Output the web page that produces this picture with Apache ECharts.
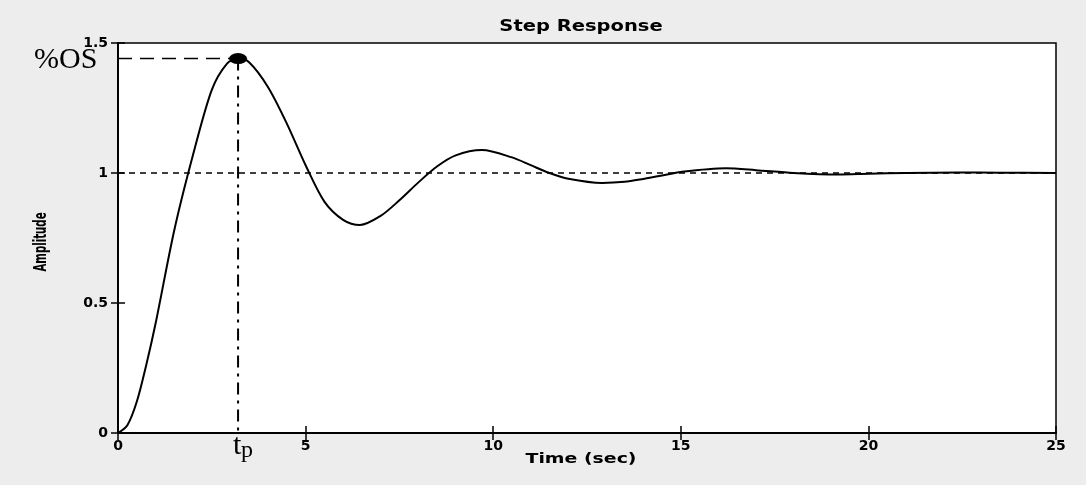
<!DOCTYPE html>
<html>
<head>
<meta charset="utf-8">
<script src="https://cdn.jsdelivr.net/npm/echarts@6/dist/echarts.min.js"></script>
<style>
  html, body { margin: 0; padding: 0; background: #ededed; }
  #step_chart { width: 1086px; height: 485px; }
</style>
</head>
<body>
<div id="step_chart"></div>
<script>
// step response (peaks and dips taken at their own times)
var times = [0, 0.25, 0.5, 0.75, 1, 1.5, 2, 2.5, 2.9, 3.2, 3.5, 4, 4.5, 5, 5.5, 6, 6.45, 7, 7.5, 8, 8.5, 9, 9.7,
    10.5, 11, 11.5, 12, 12.9, 13.5, 14, 14.5, 15, 16.2, 17, 18, 19.2, 20, 21, 22.4, 23.5, 25];
var amplitude = [0, 0.03, 0.12, 0.26, 0.42, 0.78, 1.07, 1.32, 1.42, 1.44, 1.425, 1.33, 1.19, 1.03, 0.89, 0.82, 0.80, 0.835, 0.895, 0.963, 1.025, 1.068, 1.088,
    1.06, 1.03, 1.0, 0.978, 0.962, 0.966, 0.977, 0.99, 1.004, 1.018, 1.011, 1.0, 0.994, 0.997, 1.0, 1.002, 1.001, 1.0];
var finalValue = 1;
var peakTime = 3.2;
var peakValue = 1.44;
var xTicks = [0, 5, 10, 15, 20, 25];
var yTicks = [0, 0.5, 1, 1.5];

var tickFont = {color: '#000', fontFamily: 'DejaVu Sans', fontWeight: 'bold', fontSize: 14};

var chart = echarts.init(document.getElementById('step_chart'));

var stepData = times.map(function (t, i) { return [t, amplitude[i]]; });

var option = {
    backgroundColor: '#ededed',
    animation: false,
    grid: {left: 118, right: 30, top: 43, bottom: 52, show: true, backgroundColor: '#fff', borderColor: '#000', borderWidth: 1.5},
    xAxis: [{
        type: 'value', min: 0, max: 25, interval: 5,
        axisLine: {lineStyle: {color: '#000', width: 2}},
        axisTick: {inside: true, length: 7, lineStyle: {color: '#000', width: 1.5}},
        axisLabel: Object.assign({margin: 6, formatter: function (v) { return xTicks.indexOf(v) >= 0 ? v : ''; }}, tickFont),
        splitLine: {show: false}
    }, {
        type: 'value', min: 0, max: 25, interval: 5, position: 'top',
        axisLine: {lineStyle: {color: '#000', width: 1.5}},
        axisTick: {inside: true, length: 7, lineStyle: {color: '#000', width: 1.5}},
        axisLabel: {show: false},
        splitLine: {show: false}
    }],
    yAxis: [{
        type: 'value', min: 0, max: 1.5, interval: 0.5,
        axisLine: {lineStyle: {color: '#000', width: 2}},
        axisTick: {inside: true, length: 7, lineStyle: {color: '#000', width: 1.5}},
        axisLabel: Object.assign({margin: 10, formatter: function (v) { return yTicks.indexOf(v) >= 0 ? v : ''; }}, tickFont),
        splitLine: {show: false}
    }, {
        type: 'value', min: 0, max: 1.5, interval: 0.5, position: 'right',
        axisLine: {lineStyle: {color: '#000', width: 2}},
        axisTick: {inside: true, length: 7, lineStyle: {color: '#000', width: 1.5}},
        axisLabel: {show: false},
        splitLine: {show: false}
    }],
    series: [{
        name: 'final value',
        type: 'line',
        data: [[0, finalValue], [25, finalValue]],
        symbol: 'none',
        lineStyle: {color: '#000', width: 1.5, type: [6, 5]},
        z: 1
    }, {
        name: 'peak level',
        type: 'line',
        data: [[0, peakValue], [peakTime, peakValue]],
        symbol: 'none',
        lineStyle: {color: '#000', width: 1.5, type: [14, 8]},
        z: 1
    }, {
        name: 'peak time',
        type: 'line',
        data: [[peakTime, peakValue], [peakTime, 0]],
        symbol: 'none',
        lineStyle: {color: '#000', width: 2, type: [12, 6, 3, 6]},
        z: 1
    }, {
        name: 'step',
        type: 'line',
        data: stepData,
        smooth: 0.3,
        symbol: 'none',
        lineStyle: {color: '#000', width: 2},
        z: 3
    }, {
        name: 'peak',
        type: 'scatter',
        data: [[peakTime, peakValue]],
        symbol: 'circle',
        symbolSize: [18, 11],
        itemStyle: {color: '#000', opacity: 1},
        z: 4
    }]
};
chart.setOption(option);

// titles are drawn wide like the scanned figure; %OS and t_p sit by the peak guides
var peakPx = chart.convertToPixel({gridIndex: 0}, [peakTime, peakValue]);
var basePx = chart.convertToPixel({gridIndex: 0}, [peakTime, 0]);
chart.setOption({
    graphic: [{
        type: 'text', x: 581, y: 27, scaleX: 1.3,
        style: {text: 'Step Response', align: 'center', verticalAlign: 'middle', fill: '#000', font: 'bold 15px "DejaVu Sans"'}
    }, {
        type: 'text', x: 581, y: 459, scaleX: 1.35,
        style: {text: 'Time (sec)', align: 'center', verticalAlign: 'middle', fill: '#000', font: 'bold 14px "DejaVu Sans"'}
    }, {
        type: 'text', x: 42, y: 242, rotation: Math.PI / 2, scaleX: 0.6,
        style: {text: 'Amplitude', align: 'center', verticalAlign: 'middle', fill: '#000', font: 'bold 17px "DejaVu Sans"'}
    }, {
        type: 'text', x: 34, y: peakPx[1] + 2,
        style: {text: '%OS', verticalAlign: 'middle', fill: '#000', font: '30px "Liberation Serif"'}
    }, {
        type: 'text', x: basePx[0] - 5, y: basePx[1] + 13,
        style: {text: 't', verticalAlign: 'middle', fill: '#000', font: '30px "Liberation Serif"'}
    }, {
        type: 'text', x: basePx[0] + 3, y: basePx[1] + 18,
        style: {text: 'p', verticalAlign: 'middle', fill: '#000', font: '24px "Liberation Serif"'}
    }]
});
</script>
</body>
</html>
